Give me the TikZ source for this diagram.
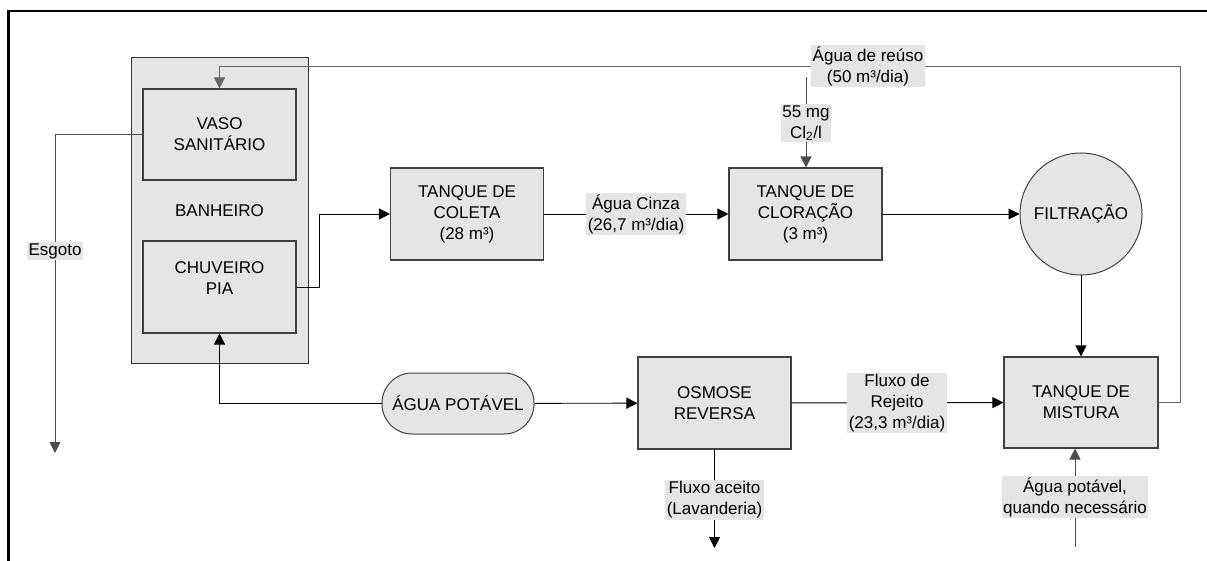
\documentclass[tikz,border=0pt]{standalone}
\usepackage{fontspec}
\setmainfont{Liberation Sans}
\usetikzlibrary{arrows.meta}

\begin{document}
\begin{tikzpicture}[x=1pt,y=-1pt,
  font=\fontsize{17}{21}\selectfont,
  unitbox/.style={draw=black!75,line width=1.1pt,fill=black!10,rectangle,align=center,
    minimum width=153pt,minimum height=92pt,inner sep=0pt},
  flowlabel/.style={fill=black!10,align=center,inner sep=1.5pt},
  flow/.style={line width=0.9pt,-{Triangle[length=11pt,width=11pt]}}]

% fix page size
\useasboundingbox (0,0) rectangle (1207,561);

% outer frame (only top and left visible)
\draw[line width=2.6pt] (8.5,561) -- (8.5,11) -- (1207,11);

% bathroom with its two units
\node[unitbox,minimum width=177pt,minimum height=305pt,line width=1pt,draw=black!80] (banheiro) at (219.5,210.5) {BANHEIRO};
\node[unitbox,minimum height=91pt] (vaso) at (219.5,134.5) {VASO\\SANITÁRIO};
\node[unitbox] (chuveiro) at (219.5,287) {CHUVEIRO\\PIA\\[-4pt]};

% treatment units
\node[unitbox] (coleta) at (467,214) {TANQUE DE\\COLETA\\(28 m³)};
\node[unitbox] (cloracao) at (805.5,214) {TANQUE DE\\CLORAÇÃO\\(3 m³)};
\node[draw=black!75,line width=1pt,fill=black!10,circle,minimum size=122pt,inner sep=0pt] (filtracao) at (1081,214) {FILTRAÇÃO};
\node[unitbox,minimum width=154pt,minimum height=91pt] (mistura) at (1081,402.5) {TANQUE DE\\MISTURA};
\node[unitbox] (osmose) at (714.5,403) {OSMOSE\\REVERSA};
\node[draw=black!75,line width=1pt,fill=black!10,rectangle,rounded corners=30pt,
  minimum width=152pt,minimum height=61pt] (potavel) at (458,403.5) {ÁGUA POTÁVEL};

% loose ends
\coordinate (retorno) at (1180,66);
\coordinate (cloro0) at (806,77);
\coordinate (esgoto0) at (55,453);
\coordinate (lavand0) at (714.5,548);
\coordinate (rede0) at (1075,547);

% connectors
\draw[flow,draw=black!60] (mistura.east) -| (retorno) -| (vaso.north);
\draw[flow,draw=black!70] (cloro0) -- (cloro0 |- cloracao.north);
\draw[flow,draw=black!70] (vaso.west) -| (esgoto0);
\draw[flow] (chuveiro.east) -- ++(23,0) |- (coleta.west);
\draw[flow] (coleta) -- (cloracao);
\draw[flow] (cloracao) -- (filtracao);
\draw[flow] (filtracao) -- (mistura);
\draw[flow] (potavel) -- (osmose);
\draw[flow] (potavel.west) -| (chuveiro.south);
\draw[flow] (osmose) -- (mistura);
\draw[flow] (osmose.south) -- (lavand0);
\draw[flow,draw=black!70] (rede0) -- (rede0 |- mistura.south);

% labels on the connectors
\node[flowlabel] (reuso) at (868,66) {Água de reúso\\(50 m³/dia)};
\node[flowlabel] (cloro) at (806,123) {55 mg\\Cl\textsubscript{2}/l};
\node[flowlabel] (esgoto) at (55,251) {Esgoto};
\node[flowlabel] (cinza) at (636,214) {Água Cinza\\(26,7 m³/dia)};
\node[flowlabel] (rejeito) at (897,403) {Fluxo de\\Rejeito\\(23,3 m³/dia)};
\node[flowlabel] (aceito) at (714.5,500) {Fluxo aceito\\(Lavanderia)};
\node[flowlabel] (necessario) at (1075,497) {Água potável,\\quando necessário};

\end{tikzpicture}
\end{document}
